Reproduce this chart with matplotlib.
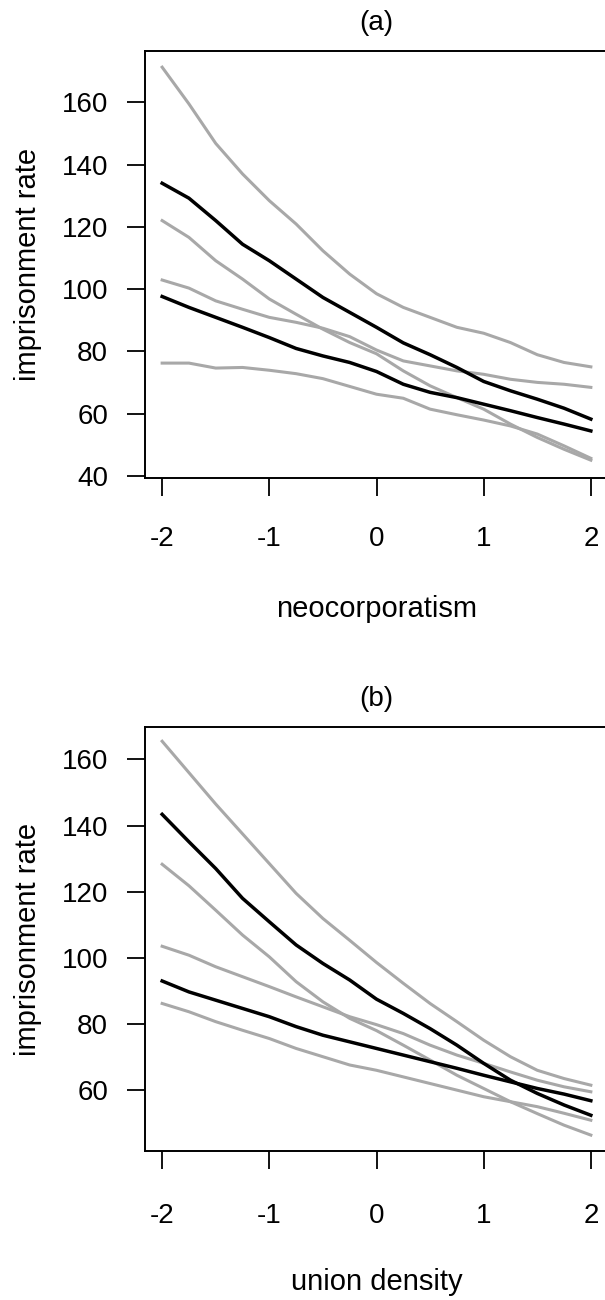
import matplotlib
matplotlib.use('Agg')
import matplotlib.pyplot as plt

plt.rcParams['font.family'] = ['Liberation Sans', 'DejaVu Sans']
plt.rcParams['font.size'] = 20

x = [-2, -1.75, -1.5, -1.25, -1, -0.75, -0.5, -0.25, 0,
     0.25, 0.5, 0.75, 1, 1.25, 1.5, 1.75, 2]

# (a) neocorporatism
a_gray = [
    [171.3, 159.5, 146.8, 137.0, 128.4, 120.9, 112.3, 104.8, 98.5,
     94.1, 90.9, 87.7, 85.8, 82.8, 78.9, 76.4, 75.0],
    [122.0, 116.6, 109.1, 103.2, 96.8, 91.9, 87.1, 82.8, 79.2,
     73.7, 68.9, 65.1, 61.4, 56.6, 52.3, 48.5, 45.0],
    [102.9, 100.3, 96.2, 93.5, 90.9, 89.3, 87.4, 84.7, 80.4,
     76.9, 75.3, 73.7, 72.6, 71.0, 70.0, 69.4, 68.4],
    [76.2, 76.2, 74.6, 74.8, 73.9, 72.8, 71.2, 68.7, 66.2,
     64.9, 61.4, 59.6, 57.9, 56.0, 53.4, 49.6, 45.6],
]
a_black = [
    [134.0, 129.2, 122.0, 114.4, 109.1, 103.2, 97.3, 92.5, 87.7,
     82.7, 78.9, 74.8, 70.3, 67.3, 64.6, 61.7, 58.2],
    [97.6, 94.1, 90.9, 87.7, 84.4, 80.9, 78.5, 76.4, 73.5,
     69.4, 66.8, 65.1, 63.0, 60.9, 58.7, 56.6, 54.4],
]

# (b) union density
b_gray = [
    [165.5, 156.0, 146.5, 137.5, 128.5, 119.5, 111.9, 105.3, 98.6,
     92.3, 86.2, 80.7, 75.1, 70.1, 66.0, 63.5, 61.5],
    [128.3, 121.8, 114.4, 106.9, 100.3, 92.8, 86.7, 81.7, 78.0,
     73.6, 69.1, 64.5, 60.5, 56.5, 52.9, 49.4, 46.4],
    [103.5, 100.8, 97.3, 94.3, 91.3, 88.2, 85.2, 82.2, 79.8,
     77.1, 73.6, 70.6, 68.1, 65.5, 63.0, 61.0, 59.5],
    [86.2, 83.7, 80.7, 78.1, 75.6, 72.6, 70.1, 67.6, 66.0,
     64.0, 62.0, 60.0, 58.0, 56.5, 55.0, 53.0, 50.9],
]
b_black = [
    [143.4, 135.1, 127.0, 118.0, 110.9, 103.9, 98.3, 93.3, 87.5,
     83.2, 78.6, 73.6, 68.1, 63.0, 59.0, 55.5, 52.4],
    [93.0, 89.7, 87.2, 84.7, 82.2, 79.2, 76.6, 74.6, 72.6,
     70.6, 68.6, 66.6, 64.5, 62.5, 60.5, 58.8, 56.8],
]

xticks = [-2, -1, 0, 1, 2]
a_yticks = [40, 60, 80, 100, 120, 140, 160]
b_yticks = [60, 80, 100, 120, 140, 160]

fig = plt.figure(figsize=(6.05, 13), dpi=100)
W, H = 605, 1300


def panel(rect, grays, blacks, ylim, yticks, title, xlabel, xpad):
    left, top, right, bottom = rect
    ax = fig.add_axes([left / W, 1 - bottom / H, (right - left) / W, (bottom - top) / H])
    for g in grays:
        ax.plot(x, g, color='#a8a8a8', lw=2.2)
    for b in blacks:
        ax.plot(x, b, color='black', lw=2.5)
    ax.set_xlim(-2.16, 2.16)
    ax.set_ylim(*ylim)
    ax.set_xticks(xticks)
    ax.set_xticklabels([str(t) for t in xticks])
    ax.set_yticks(yticks)
    for s in ax.spines.values():
        s.set_linewidth(1.4)
    ax.tick_params(axis='both', direction='out', length=13, width=1.3, labelsize=20)
    ax.tick_params(axis='y', pad=13.5)
    ax.tick_params(axis='x', pad=xpad)
    h = bottom - top
    ax.set_title(title, fontsize=20, y=1 + 28 / h, va='center', pad=0)
    ax.set_xlabel(xlabel, fontsize=21, va='center')
    ax.xaxis.set_label_coords(0.5, -131 / h)
    ax.set_ylabel('imprisonment rate', fontsize=21, va='center')
    ax.yaxis.set_label_coords((28 - left) / (right - left), 0.5)
    return ax


panel((145, 50.7, 608, 477.6), a_gray, a_black, (39.4, 176.6), a_yticks,
      '(a)', 'neocorporatism', 22)
panel((145, 726.7, 608, 1151.3), b_gray, b_black, (41.5, 169.9), b_yticks,
      '(b)', 'union density', 24)

plt.savefig('out.png', dpi=100)
